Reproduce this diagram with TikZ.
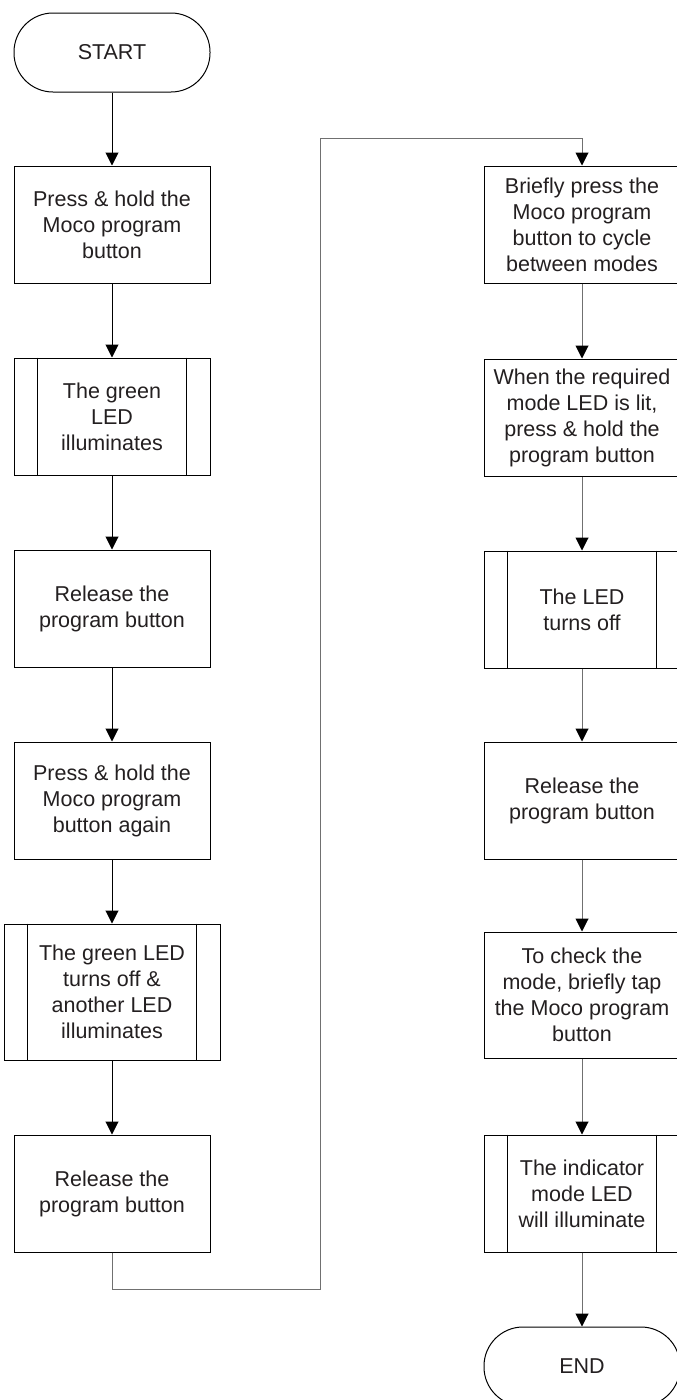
\documentclass[tikz,border=0pt]{standalone}
\usepackage{fontspec}
\setmainfont{Liberation Sans}
\usetikzlibrary{arrows.meta}
\definecolor{inkgray}{HTML}{231F20}
\definecolor{linegray}{HTML}{707070}
\tikzset{
    every node/.style={font=\fontsize{21.5}{26}\selectfont, text=inkgray, align=center},
    stepbox/.style={draw, line width=1pt, minimum width=196pt, minimum height=117pt, inner sep=0pt},
    terminal/.style={stepbox, minimum height=79pt, rounded corners=39pt},
    flow/.style={line width=1pt, -{Triangle[width=13pt,length=13pt,black]}},
    grayflow/.style={flow, draw=linegray},
}
\newcommand{\subprocbox}[6]{
    \node[stepbox, minimum width=#4, minimum height=#5] (#1) at (#2, #3) {#6};
    \draw[line width=1pt] ([xshift=24pt]#1.north west) -- ([xshift=24pt]#1.south west);
    \draw[line width=1pt] ([xshift=-24pt]#1.north east) -- ([xshift=-24pt]#1.south east);
}
\begin{document}
\begin{tikzpicture}[x=1pt, y=-1pt]
            \useasboundingbox (0,0) rectangle (677,1400);

            \node[terminal] (start) at (112,52.5) {START};
            \node[stepbox] (b1) at (112,224.5) {Press \& hold the\\Moco program\\button};
            \subprocbox{b2}{112}{416.5}{196pt}{117pt}{The green\\LED\\illuminates}
            \node[stepbox] (b3) at (112,608.5) {Release the\\program button};
            \node[stepbox] (b4) at (112,800.5) {Press \& hold the\\Moco program\\button again};
            \subprocbox{b5}{112}{992}{216pt}{136pt}{The green LED\\turns off \&\\another LED\\illuminates}
            \node[stepbox] (b6) at (112,1193.5) {Release the\\program button};

            \node[stepbox] (r1) at (582,224.5) {Briefly press the\\Moco program\\button to cycle\\between modes};
            \node[stepbox] (r2) at (582,417.5) {When the required\\mode LED is lit,\\press \& hold the\\program button};
            \subprocbox{r3}{582}{609.5}{196pt}{117pt}{The LED\\turns off}
            \node[stepbox] (r4) at (582,800.5) {Release the\\program button};
            \node[stepbox, minimum height=126pt] (r5) at (582,995) {To check the\\mode, briefly tap\\the Moco program\\button};
            \subprocbox{r6}{582}{1193.5}{196pt}{117pt}{The indicator\\mode LED\\will illuminate}
            \node[terminal] (end) at (582,1366.5) {END};

            \coordinate (lowturn) at (320,1289);
            \coordinate (topturn) at (320,138);

            \draw[flow] (start) -- (b1);
            \draw[flow] (b1) -- (b2);
            \draw[flow] (b2) -- (b3);
            \draw[flow] (b3) -- (b4);
            \draw[flow] (b4) -- (b5);
            \draw[flow] (b5) -- (b6);

            \draw[grayflow] (b6.south) |- (lowturn) -- (topturn) -| (r1.north);

            \draw[grayflow] (r1) -- (r2);
            \draw[grayflow] (r2) -- (r3);
            \draw[grayflow] (r3) -- (r4);
            \draw[grayflow] (r4) -- (r5);
            \draw[grayflow] (r5) -- (r6);
            \draw[grayflow] (r6) -- (end);
        \end{tikzpicture}
\end{document}
